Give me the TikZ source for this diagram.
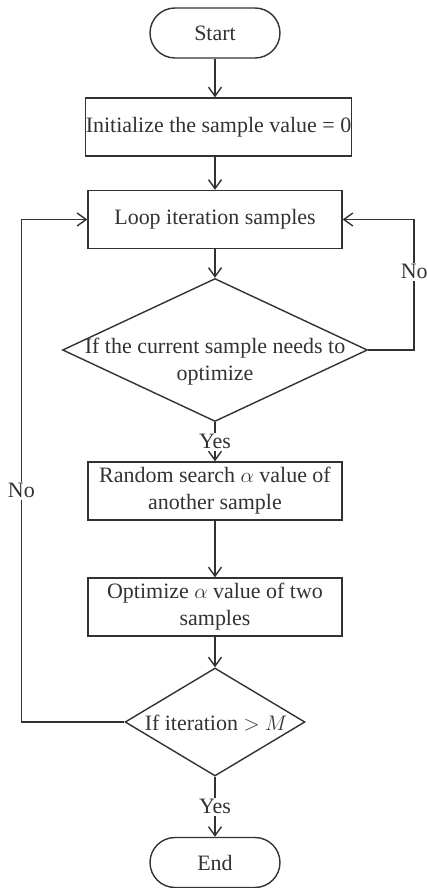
\documentclass[tikz,border=0pt]{standalone}
\usepackage{fontspec}
\setmainfont{Liberation Serif}
\usetikzlibrary{shapes.geometric,arrows.meta}
\definecolor{ink}{RGB}{50,50,50}
\begin{document}
\begin{tikzpicture}[x=0.02cm,y=-0.02cm,>={Straight Barb[length=1.8mm,width=2.6mm]},
    every node/.style={font=\fontsize{12.5}{15.4}\selectfont,text=ink},
    flowline/.style={draw=ink,line width=0.8pt},
    terminal/.style={flowline,rectangle,rounded corners=0.5cm,minimum width=2.6cm,minimum height=1cm},
    process/.style={flowline,rectangle,minimum width=5.08cm,minimum height=1.16cm,align=center,inner sep=0pt},
    decision/.style={flowline,diamond,inner sep=0pt}]
  \useasboundingbox (0,0) rectangle (426,888);
  \node[terminal] (start) at (215,33) {Start};
  \node[process,minimum width=5.3cm] (init) at (218.5,127) {Initialize the sample value = 0};
  \node[process] (loop) at (215,219.5) {Loop iteration samples};
  \node[decision,minimum width=6.1cm,minimum height=2.86cm] (d1) at (215,350) {};
  \node[align=center] (d1txt) at (215,362) {If the current sample needs to\\optimize};
  \node[process] (rand) at (215,491) {Random search $\alpha$ value of\\another sample};
  \node[process] (opt) at (215,607) {Optimize $\alpha$ value of two\\samples};
  \node[decision,minimum width=3.6cm,minimum height=2.16cm] (d2) at (215,722) {};
  \node (d2txt) at (216,723) {If iteration $>$ $M$};
  \node[terminal] (end) at (215,862.5) {End};
  \draw[flowline,->] (start) -- (start |- init.north);
  \draw[flowline,->] (init.south -| loop) -- (loop);
  \draw[flowline,->] (loop) -- (d1);
  \draw[flowline,->] (d1) -- node[fill=white,inner sep=1pt] (yes1) {Yes} (rand);
  \draw[flowline,->] (rand) -- (opt);
  \draw[flowline,->] (opt) -- (d2);
  \draw[flowline,->] (d2) -- node[fill=white,inner sep=1pt] (yes2) {Yes} (end);
  \draw[flowline,->] (d1.east) -- ++(46,0) |- node[pos=0.3,fill=white,inner sep=1pt] (no1) {No} (loop.east);
  \draw[flowline,->] (d2.west) -- ++(-103,0) |- node[pos=0.23,fill=white,inner sep=1pt] (no2) {No} (loop.west);
\end{tikzpicture}
\end{document}
